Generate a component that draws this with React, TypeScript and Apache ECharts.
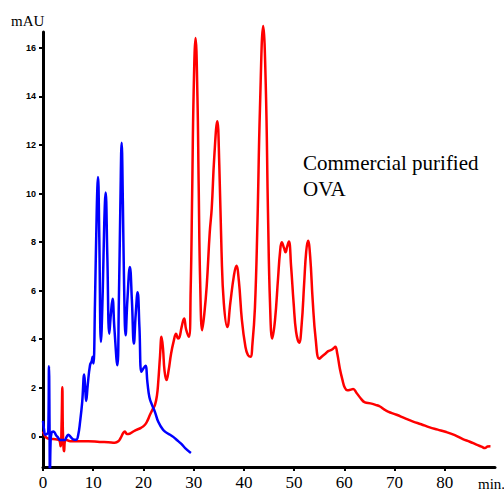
import React, { useEffect, useRef } from "react";
import * as echarts from "echarts";

// Retention time (min) vs absorbance (mAU)
const commercialOVA: [number, number][] = [
  [0, 0.2], [0.3, 0.05], [0.8, -0.07], [1.5, -0.1], [2.5, -0.12], [3.2, -0.15],
  [3.5, -0.41], [3.7, 0.5], [3.85, 2.02], [3.95, 0.3], [4.1, -0.5], [4.2, -0.61],
  [4.35, -0.2], [4.7, -0.15], [5.4, -0.2], [7, -0.2], [9, -0.2], [11.3, -0.23],
  [13, -0.24], [14.3, -0.26], [15.0, -0.2], [15.5, -0.05], [16.0, 0.15], [16.3, 0.2],
  [16.7, 0.1], [17.0, 0.1], [17.8, 0.18], [18.6, 0.27], [19.5, 0.35], [20.3, 0.48],
  [20.8, 0.65], [21.3, 0.89], [21.8, 1.1], [22.3, 1.3], [22.7, 1.7], [22.95, 2.25],
  [23.3, 3.3], [23.6, 4.1], [23.9, 3.6], [24.2, 2.7], [24.6, 2.32], [25.0, 2.7],
  [25.5, 3.4], [26.0, 3.9], [26.5, 4.23], [26.9, 4.03], [27.2, 4.1], [27.6, 4.5],
  [28.1, 4.85], [28.5, 4.4], [29.05, 4.1], [29.4, 6.0], [29.7, 10.0], [30.0, 14.2],
  [30.38, 16.4], [30.75, 14.0], [31.0, 10.3], [31.3, 6.3], [31.7, 4.37], [32.1, 5.0],
  [32.6, 6.2], [33.2, 8.4], [33.6, 9.4], [34.1, 11.5], [34.7, 12.98], [35.1, 11.2],
  [35.55, 7.6], [36.0, 5.5], [36.7, 4.5], [37.3, 5.5], [38.0, 6.6], [38.5, 7.03],
  [39.0, 6.4], [39.6, 4.8], [40.3, 3.7], [40.8, 3.35], [41.3, 3.28], [41.7, 3.8],
  [42.2, 5.3], [42.7, 8.8], [43.2, 13.5], [43.85, 16.9], [44.35, 14.5], [44.8, 9.2],
  [45.2, 5.5], [45.65, 4.03], [46.2, 4.8], [46.8, 6.5], [47.2, 7.6], [47.55, 7.99],
  [48.0, 7.75], [48.3, 7.58], [48.6, 7.8], [48.96, 8.02], [49.4, 7.0], [49.9, 5.5],
  [50.4, 4.3], [51.0, 3.86], [51.5, 4.6], [52.0, 6.3], [52.4, 7.6], [52.77, 8.06],
  [53.2, 7.4], [53.7, 5.6], [54.3, 4.0], [55.0, 3.2], [55.6, 3.3], [56.2, 3.4],
  [56.8, 3.51], [57.3, 3.55], [57.8, 3.62], [58.2, 3.69], [58.6, 3.4], [59.1, 2.8],
  [59.6, 2.35], [60.1, 2.0], [60.6, 1.9], [61.2, 1.92], [61.75, 1.95], [62.4, 1.8],
  [63.2, 1.58], [64.1, 1.4], [65.2, 1.36], [66.2, 1.3], [67.1, 1.23], [68.0, 1.1],
  [68.7, 1.02], [70.4, 0.89], [72.0, 0.75], [73.7, 0.61], [75.3, 0.5], [77.0, 0.37],
  [78.6, 0.28], [80.3, 0.18], [82.0, 0.05], [83.6, -0.11], [85.0, -0.22], [86.3, -0.34],
  [87.3, -0.42], [88.0, -0.48], [88.5, -0.42], [89.1, -0.41],
];

const sampleTrace: [number, number][] = [
  [0, 0.64], [0.2, 0.3], [0.45, 0.07], [0.8, 0.1], [1.05, 0.2], [1.19, 2.89],
  [1.3, 0.5], [1.38, -2.0], [1.5, -0.3], [1.7, 0.15], [2.1, 0.2], [2.6, 0.05],
  [3.0, -0.05], [3.4, -0.15], [4.3, -0.15], [4.7, -0.02], [5.04, 0.07], [5.5, -0.02],
  [6.0, -0.12], [6.6, -0.14], [7.0, 0.05], [7.4, 0.63], [7.8, 1.4], [8.2, 2.55],
  [8.4, 2.0], [8.6, 1.46], [8.9, 2.1], [9.36, 2.93], [9.7, 3.1], [9.88, 3.28],
  [10.05, 3.0], [10.35, 5.5], [10.7, 9.3], [10.95, 10.68], [11.2, 8.3], [11.54, 3.89],
  [11.9, 6.0], [12.2, 8.8], [12.47, 10.04], [12.8, 7.5], [13.2, 4.23], [13.5, 5.0],
  [13.85, 5.67], [14.2, 4.5], [14.8, 2.93], [15.1, 5.5], [15.4, 9.5], [15.66, 12.09],
  [15.9, 9.7], [16.15, 6.2], [16.45, 4.16], [16.8, 5.6], [17.3, 6.97], [17.7, 5.6],
  [18.1, 3.82], [18.45, 5.0], [18.84, 5.94], [19.2, 4.5], [19.6, 2.66], [20.0, 2.8],
  [20.4, 2.91], [20.8, 2.2], [21.2, 1.6], [21.7, 1.3], [22.3, 1.0], [22.95, 0.6],
  [23.9, 0.27], [24.6, 0.15], [25.3, 0.07], [26.0, -0.03], [26.6, -0.14], [27.5, -0.3],
  [28.3, -0.48], [29.45, -0.68],
];

const xTicks = [0, 10, 20, 30, 40, 50, 60, 70, 80];
const yTicks = [0, 2, 4, 6, 8, 10, 12, 14, 16];

const serif = "'Liberation Serif', 'Times New Roman', serif";
const sans = "'Liberation Sans', Arial, sans-serif";

export default function App() {
  const ref = useRef<HTMLDivElement>(null);
  useEffect(() => {
    document.body.style.margin = "0";
    const chart = echarts.init(ref.current!, null, { renderer: "svg" });
    chart.setOption({
      animation: false,
      backgroundColor: "#ffffff",
      grid: { left: 43, right: 9, top: 32, bottom: 22 },
      xAxis: {
        type: "value",
        min: 0,
        max: 90,
        axisLine: { onZero: false, lineStyle: { color: "#000", width: 3 } },
        axisTick: { customValues: xTicks, length: 4, lineStyle: { color: "#000", width: 2 } },
        axisLabel: {
          customValues: xTicks,
          margin: 7,
          color: "#000",
          fontFamily: serif,
          fontSize: 17,
        },
        splitLine: { show: false },
      },
      yAxis: {
        type: "value",
        min: -1.26,
        max: 16.65,
        axisLine: { show: true, onZero: false, lineStyle: { color: "#000", width: 3 } },
        axisTick: { show: true, customValues: yTicks, length: 4, lineStyle: { color: "#000", width: 2 } },
        axisLabel: {
          customValues: yTicks,
          margin: 7,
          color: "#000",
          fontFamily: sans,
          fontSize: 9,
          fontWeight: "bold",
        },
        splitLine: { show: false },
      },
      graphic: [
        { type: "text", left: 11, top: 13, style: { text: "mAU", font: `15px ${serif}`, fill: "#000" } },
        { type: "text", left: 478, top: 476, style: { text: "min.", font: `15px ${serif}`, fill: "#000" } },
        {
          type: "text",
          left: 303,
          top: 150,
          style: {
            text: "Commercial purified\nOVA",
            font: `21px ${serif}`,
            lineHeight: 26,
            fill: "#000",
          },
        },
      ],
      series: [
        {
          type: "line",
          data: commercialOVA,
          showSymbol: false,
          smooth: 0.45,
          clip: false,
          lineStyle: { color: "#ff0000", width: 2.5 },
          z: 2,
        },
        {
          type: "line",
          data: sampleTrace,
          showSymbol: false,
          smooth: 0.45,
          clip: true,
          lineStyle: { color: "#0000ff", width: 2.5 },
          z: 3,
        },
      ],
    });
    return () => chart.dispose();
  }, []);
  return <div ref={ref} style={{ width: 504, height: 491 }} />;
}
